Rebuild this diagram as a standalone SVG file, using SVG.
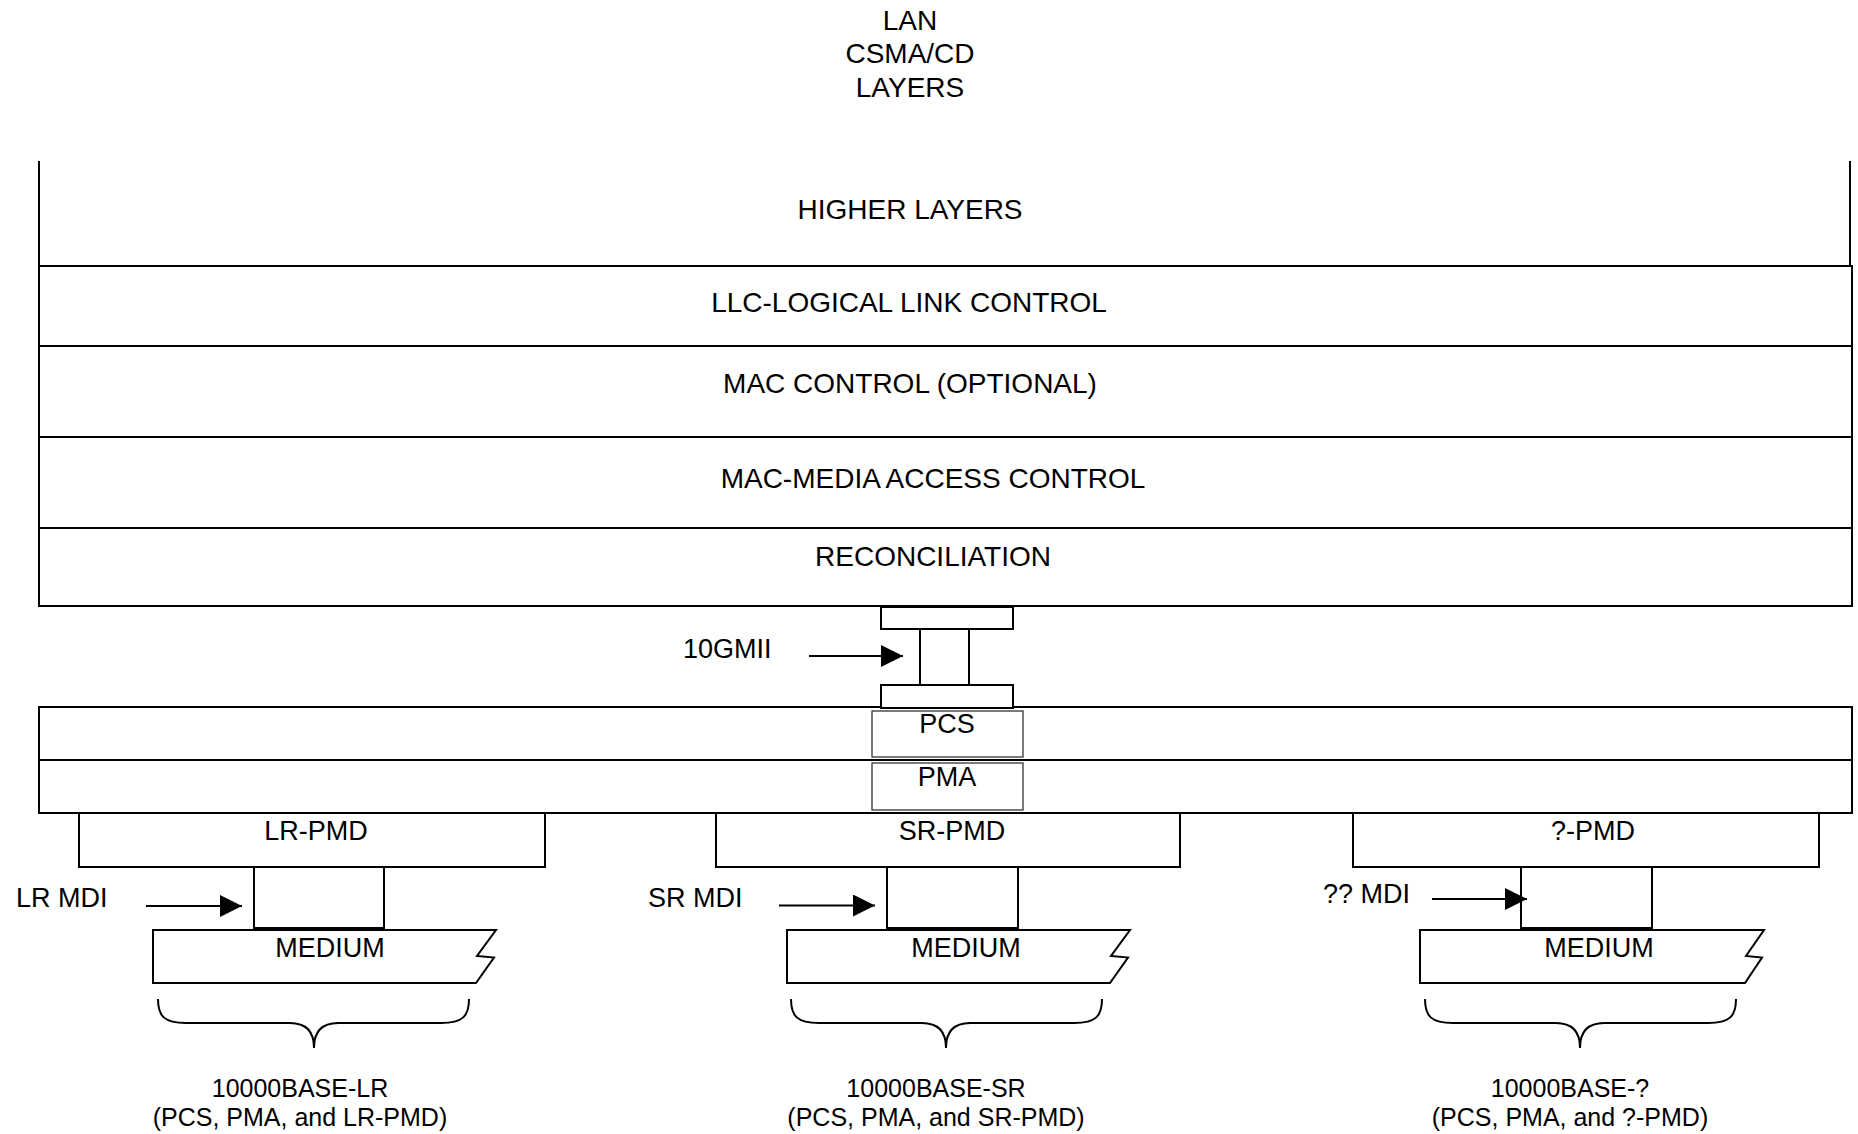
<svg xmlns="http://www.w3.org/2000/svg" width="1858" height="1134" viewBox="0 0 1858 1134">
<defs>
<style>
text{font-family:"Liberation Sans",Arial,sans-serif;fill:#000;text-anchor:middle}
.t28{font-size:28px}
.t27{font-size:27px}
.t25{font-size:25px}
.ln{stroke:#000;stroke-width:2;fill:none}
.bx{stroke:#000;stroke-width:2;fill:#fff}
.in{stroke:#333;stroke-width:1.3;fill:#fff}
.st{text-anchor:start}
</style>
<marker id="ah" markerUnits="userSpaceOnUse" markerWidth="22" markerHeight="22" refX="22" refY="11" orient="auto">
<path d="M0,0 L22,11 L0,22 Z" fill="#000"/>
</marker>
</defs>
<rect width="1858" height="1134" fill="#fff"/>

<g id="header">
<text class="t28" x="910" y="30">LAN</text>
<text class="t28" x="910" y="63">CSMA/CD</text>
<text class="t28" x="910" y="97">LAYERS</text>
</g>

<g id="higher-layers">
<line class="ln" x1="39" y1="161" x2="39" y2="266"/>
<line class="ln" x1="1850" y1="161" x2="1850" y2="266"/>
<text class="t28" x="910" y="219">HIGHER LAYERS</text>
</g>

<g id="stack">
<rect class="bx" x="39" y="266" width="1813" height="340"/>
<line class="ln" x1="39" y1="346" x2="1852" y2="346"/>
<line class="ln" x1="39" y1="437" x2="1852" y2="437"/>
<line class="ln" x1="39" y1="528" x2="1852" y2="528"/>
</g>
<g id="llc"><text class="t28" x="909" y="312">LLC-LOGICAL LINK CONTROL</text></g>
<g id="mac-control"><text class="t28" x="910" y="393">MAC CONTROL (OPTIONAL)</text></g>
<g id="mac"><text class="t28" x="933" y="488">MAC-MEDIA ACCESS CONTROL</text></g>
<g id="reconciliation"><text class="t28" x="933" y="566">RECONCILIATION</text></g>

<g id="xgmii">
<rect class="bx" x="881" y="607" width="132" height="22"/>
<line class="ln" x1="920" y1="629" x2="920" y2="685"/>
<line class="ln" x1="969" y1="629" x2="969" y2="685"/>
<text class="t27 st" x="683" y="658">10GMII</text>
</g>

<g id="pcs-pma">
<rect class="bx" x="39" y="707" width="1813" height="106"/>
<line class="ln" x1="39" y1="760" x2="1852" y2="760"/>
<rect class="bx" x="881" y="685" width="132" height="23"/>
<rect class="in" x="872" y="711" width="151" height="46"/>
<rect class="in" x="872" y="763" width="151" height="47"/>
<text class="t27" x="947" y="733">PCS</text>
<text class="t27" x="947" y="786">PMA</text>
</g>

<g id="lr">
<rect class="bx" x="79" y="813" width="466" height="54"/>
<text class="t27" x="316" y="840">LR-PMD</text>
<rect class="bx" x="254" y="867" width="130" height="61"/>
<text class="t27 st" x="16" y="907">LR MDI</text>
<path class="bx" d="M153,930 L496,930 L477,956 L494,957.5 L476,983 L153,983 Z"/>
<text class="t27" x="330" y="957">MEDIUM</text>
<text class="t25" x="300" y="1097">10000BASE-LR</text>
<text class="t25" x="300" y="1126">(PCS, PMA, and LR-PMD)</text>
</g>

<g id="sr">
<rect class="bx" x="716" y="813" width="464" height="54"/>
<text class="t27" x="952" y="840">SR-PMD</text>
<rect class="bx" x="887" y="867" width="131" height="61"/>
<text class="t27 st" x="648" y="907">SR MDI</text>
<path class="bx" d="M787,930 L1130,930 L1111,956 L1128,957.5 L1110,983 L787,983 Z"/>
<text class="t27" x="966" y="957">MEDIUM</text>
<text class="t25" x="936" y="1097">10000BASE-SR</text>
<text class="t25" x="936" y="1126">(PCS, PMA, and SR-PMD)</text>
</g>

<g id="q">
<rect class="bx" x="1353" y="813" width="466" height="54"/>
<text class="t27" x="1593" y="840">?-PMD</text>
<rect class="bx" x="1521" y="867" width="131" height="61"/>
<text class="t27 st" x="1323" y="903">?? MDI</text>
<path class="bx" d="M1420,930 L1764,930 L1746,956 L1762,957.5 L1745,983 L1420,983 Z"/>
<text class="t27" x="1599" y="957">MEDIUM</text>
<text class="t25" x="1570" y="1097">10000BASE-?</text>
<text class="t25" x="1570" y="1126">(PCS, PMA, and ?-PMD)</text>
</g>

<g id="connectors">
<line class="ln" x1="809" y1="656" x2="903" y2="656" marker-end="url(#ah)"/>
<line class="ln" x1="146" y1="906" x2="242" y2="906" marker-end="url(#ah)"/>
<line class="ln" x1="779" y1="905.5" x2="875" y2="905.5" marker-end="url(#ah)"/>
<line class="ln" x1="1432" y1="899" x2="1527" y2="899" marker-end="url(#ah)"/>
<path class="ln" d="M158,999 C158,1016 164,1023 186,1023 L290,1023 C306,1023 314,1032 314,1048 C314,1032 322,1023 338,1023 L441,1023 C463,1023 469,1016 469,999"/>
<path class="ln" d="M791,999 C791,1016 797,1023 819,1023 L922,1023 C938,1023 946,1032 946,1048 C946,1032 954,1023 970,1023 L1074,1023 C1096,1023 1102,1016 1102,999"/>
<path class="ln" d="M1425,999 C1425,1016 1431,1023 1453,1023 L1556,1023 C1572,1023 1580,1032 1580,1048 C1580,1032 1588,1023 1604,1023 L1708,1023 C1730,1023 1736,1016 1736,999"/>
</g>
</svg>
